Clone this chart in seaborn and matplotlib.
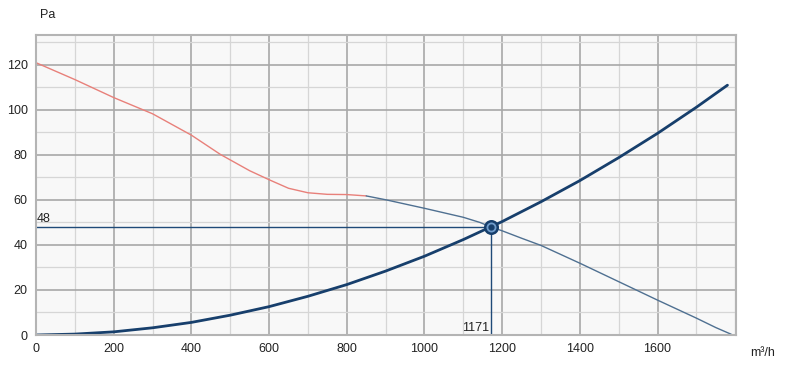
import matplotlib

matplotlib.use("Agg")

import matplotlib.pyplot as plt
import pandas as pd
import seaborn as sns
from matplotlib.ticker import MultipleLocator

# system curve
sys_flow = [0, 100, 200, 300, 400, 500, 600, 700, 800, 900, 1000, 1100, 1200, 1300, 1400, 1500, 1600, 1700, 1780]
sys_pa = [0, 0.4, 1.4, 3.2, 5.6, 8.8, 12.6, 17.2, 22.4, 28.4, 35.0, 42.4, 50.4, 59.2, 68.6, 78.8, 89.6, 101.2, 111.0]

# fan curve, outside working range (red) and inside (blue-grey)
fan_lo_flow = [0, 100, 200, 300, 400, 475, 550, 600, 650, 700, 750, 800, 850]
fan_lo_pa = [121, 113.5, 105.5, 98.3, 88.8, 80.2, 73, 69, 65.2, 63.2, 62.5, 62.4, 61.8]
fan_hi_flow = [850, 900, 1000, 1100, 1143, 1171, 1200, 1250, 1300, 1400, 1500, 1600, 1700, 1750, 1790]
fan_hi_pa = [61.8, 60.1, 56.3, 52.3, 50.0, 48, 46.3, 43.0, 39.8, 31.9, 23.7, 15.5, 7.5, 3.3, 0.3]

# operating point
op_flow = 1171
op_pa = 48

x_ticks = [0, 200, 400, 600, 800, 1000, 1200, 1400, 1600]
y_ticks = [0, 20, 40, 60, 80, 100, 120]


def main() -> None:
    sns.set_style("whitegrid", {"axes.facecolor": "#f8f8f8", "axes.edgecolor": "#b4b4b4"})
    plt.rcParams["font.family"] = ["Liberation Sans", "DejaVu Sans"]
    plt.rcParams["font.size"] = 9

    fig = plt.figure(figsize=(7.87, 3.70), dpi=100)
    ax = fig.add_axes([36 / 787, 35 / 370, 700 / 787, 300 / 370])

    sys_df = pd.DataFrame({"flow": sys_flow, "pa": sys_pa})
    lo_df = pd.DataFrame({"flow": fan_lo_flow, "pa": fan_lo_pa})
    hi_df = pd.DataFrame({"flow": fan_hi_flow, "pa": fan_hi_pa})

    sns.lineplot(data=lo_df, x="flow", y="pa", ax=ax, color="#e8807a", linewidth=1.0)
    sns.lineplot(data=hi_df, x="flow", y="pa", ax=ax, color="#4f7091", linewidth=1.0)
    sns.lineplot(data=sys_df, x="flow", y="pa", ax=ax, color="#173f6c", linewidth=2.0)

    ax.plot([0, op_flow], [op_pa, op_pa], color="#1f4a78", linewidth=1.0)
    ax.plot([op_flow, op_flow], [0, op_pa], color="#1f4a78", linewidth=1.0)
    ax.plot([op_flow], [op_pa], marker="o", markersize=9, markerfacecolor="#6f9ccb",
            markeredgecolor="#163e6b", markeredgewidth=1.8, zorder=5)
    ax.plot([op_flow], [op_pa], marker="o", markersize=3.5, color="#163e6b", zorder=6)

    ax.text(2, op_pa + 0.8, str(op_pa), ha="left", va="bottom", fontsize=9, color="#222222")
    ax.text(op_flow - 4, 0.5, str(op_flow), ha="right", va="bottom", fontsize=9, color="#222222")

    ax.set_xlim(0, 1802)
    ax.set_ylim(0, 133.3)
    ax.set_xticks(x_ticks)
    ax.set_yticks(y_ticks)
    ax.xaxis.set_minor_locator(MultipleLocator(100))
    ax.yaxis.set_minor_locator(MultipleLocator(10))
    ax.grid(which="major", color="#a8a8a8", linewidth=1.2)
    ax.grid(which="minor", color="#d6d6d6", linewidth=0.9)
    ax.set_axisbelow(True)
    ax.tick_params(which="major", length=4, color="#a8a8a8", width=1, labelsize=9, labelcolor="#222222", pad=2)
    ax.tick_params(which="minor", length=0)
    for s in ax.spines.values():
        s.set_linewidth(1.5)
        s.set_color("#b4b4b4")

    ax.set_xlabel("")
    ax.set_ylabel("")
    fig.text(40 / 787, 1 - 15 / 370, "Pa", ha="left", va="center", fontsize=9, color="#222222")
    fig.text(750 / 787, 1 - 353 / 370, "m³/h", ha="left", va="center", fontsize=9, color="#222222")

    fig.savefig("out.png", dpi=100)
    plt.close(fig)


if __name__ == "__main__":
    main()
